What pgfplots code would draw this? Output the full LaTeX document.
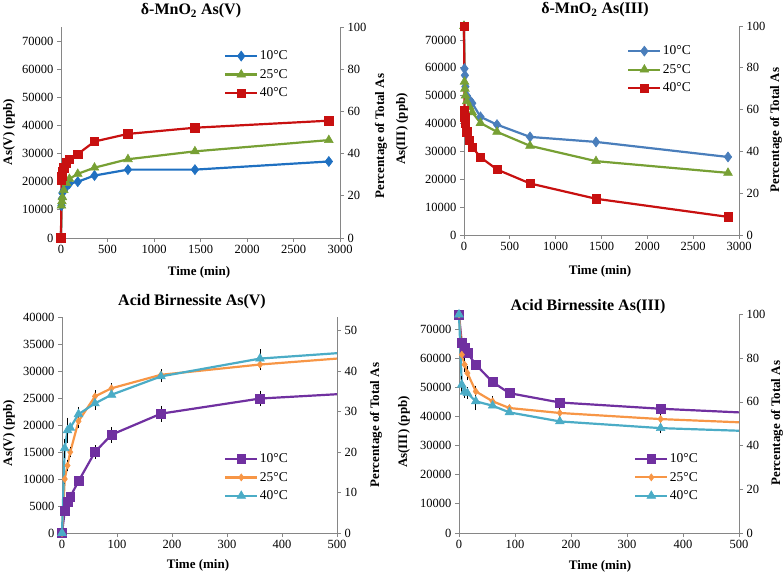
\documentclass[border=0pt]{standalone}
\usepackage{fontspec}
\setmainfont{Liberation Serif}
\usepackage{pgfplots}
\pgfplotsset{compat=1.18}
\definecolor{axgray}{RGB}{134,134,134}
\definecolor{bA}{RGB}{31,112,193}
\definecolor{bB}{RGB}{74,126,187}
\definecolor{gA}{RGB}{119,160,52}
\definecolor{rA}{RGB}{200,16,16}
\definecolor{pu}{RGB}{112,48,160}
\definecolor{orr}{RGB}{247,150,70}
\definecolor{cy}{RGB}{75,172,198}
\pgfplotsset{
  common/.style={scale only axis, anchor=south west, tick align=outside, major tick length=4pt,
    axis line style={axgray, line width=0.8pt}, tick style={axgray, line width=0.8pt},
    tick label style={font=\rmfamily\fontsize{12.5}{14}\selectfont, text=black},
    /pgf/number format/assume math mode=true,
    /pgf/number format/set thousands separator={},
    scaled x ticks=false, scaled y ticks=false, clip=false, ymin=0, xmin=0},
  leftax/.style={common, axis x line*=bottom, axis y line*=left},
  rightax/.style={common, axis y line*=right, axis x line=none, xmax=1},
  ser/.style={line width=2.2pt, mark options={solid, line width=0.6pt}},
  leg/.style={legend style={at={(axis description cs:#1)}, anchor=north west, draw=none, fill=none,
     font=\rmfamily\fontsize{13.5}{15}\selectfont, row sep=5pt, inner sep=0pt, nodes={inner sep=1.5pt}},
     legend cell align=left},
  legend image code/.code={\draw[mark repeat=2,mark phase=2] plot coordinates {(0pt,0pt) (16pt,0pt) (32pt,0pt)};},
  eb/.style={error bars/.cd, y dir=both, y explicit, error bar style={black, line width=0.7pt},
     error mark options={black, line width=0.7pt, mark size=3pt}},
}
\newcommand{\lbl}{\rmfamily\fontsize{13}{15}\selectfont\bfseries}
\newcommand{\ttl}{\rmfamily\fontsize{16}{18}\selectfont\bfseries}
\begin{document}
\begin{tikzpicture}
\useasboundingbox (0,0) rectangle (784pt,576pt);
% ---------- Panel 1 ----------
\begin{axis}[leftax, at={(61pt,338pt)}, width=279pt, height=211pt,
  xmax=3000, ymax=75000, xtick={0,500,...,3000}, ytick={0,10000,...,70000}, leg={0.584,0.895}]
\addplot[ser, color=bA, mark=diamond*, mark size=5pt] coordinates {(0,0)(5,11500)(10,14000)(15,16000)(30,17000)(60,18300)(90,19300)(180,20000)(360,22200)(720,24300)(1440,24300)(2880,27200)};
\addlegendentry{10°C}
\addplot[ser, color=gA, mark=triangle*, mark size=5pt] coordinates {(0,0)(5,11500)(10,13000)(15,14500)(30,17000)(60,19500)(90,21000)(180,22800)(360,25000)(720,28000)(1440,30800)(2880,34800)};
\addlegendentry{25°C}
\addplot[ser, color=rA, mark=square*, mark size=4.2pt] coordinates {(0,0)(5,20500)(10,22000)(15,23500)(30,25000)(60,26800)(90,28000)(180,29800)(360,34300)(720,37000)(1440,39200)(2880,41700)};
\addlegendentry{40°C}
\end{axis}
\begin{axis}[rightax, at={(61pt,338pt)}, width=279pt, height=211pt, ymax=100, ytick={0,20,...,100}]
\end{axis}
% ---------- Panel 2 ----------
\begin{axis}[leftax, at={(464pt,341pt)}, width=275pt, height=209pt,
  xmax=3000, ymax=75000, xtick={0,500,...,3000}, ytick={0,10000,...,70000}, leg={0.593,0.913}]
\addplot[ser, color=bB, mark=diamond*, mark size=5pt] coordinates {(0,75000)(5,59700)(10,57300)(15,53200)(30,50000)(60,48500)(90,47300)(180,42400)(360,39600)(720,35200)(1440,33400)(2880,28000)};
\addlegendentry{10°C}
\addplot[ser, color=gA, mark=triangle*, mark size=5pt] coordinates {(0,75000)(5,55000)(10,52500)(15,50000)(30,48000)(60,46000)(90,44000)(180,40200)(360,37000)(720,32000)(1440,26500)(2880,22300)};
\addlegendentry{25°C}
\addplot[ser, color=rA, mark=square*, mark size=4.2pt] coordinates {(0,75000)(5,44500)(10,42200)(15,40000)(30,37000)(60,34000)(90,31500)(180,27900)(360,23500)(720,18500)(1440,13000)(2880,6500)};
\addlegendentry{40°C}
\end{axis}
\begin{axis}[rightax, at={(464pt,341pt)}, width=275pt, height=209pt, ymax=100, ytick={0,20,...,100}]
\end{axis}
% ---------- Panel 3 ----------
\begin{axis}[leftax, at={(62pt,43pt)}, width=275pt, height=216pt,
  xmax=500, ymax=40000, xtick={0,100,...,500}, ytick={0,5000,...,40000}, leg={0.589,0.375}]
\addplot[ser, color=pu, mark=square*, mark size=4.4pt, eb] coordinates {(0,0)(5,4100)+-(0,300)(10,5800)(15,6700)+-(0,400)(30,9600)(60,15000)+-(0,700)(90,18200)+-(0,900)(180,22100)+-(0,900)(360,24900)+-(0,900)};
\addlegendentry{10°C}
\addplot[ser, color=orr, mark=diamond*, mark size=3.5pt, eb] coordinates {(0,0)(5,10000)+-(0,400)(10,12500)+-(0,500)(15,15000)+-(0,400)(30,20700)+-(0,700)(60,25300)+-(0,600)(90,26800)+-(0,400)(180,29300)+-(0,500)(360,31200)+-(0,500)};
\addlegendentry{25°C}
\addplot[ser, color=cy, mark=triangle*, mark size=5pt, eb] coordinates {(0,0)(5,15700)+-(0,1200)(10,19000)+-(0,1800)(15,19500)(30,22000)+-(0,800)(60,24000)+-(0,600)(90,25600)(180,29000)+-(0,500)(360,32300)+-(0,1200)};
\addlegendentry{40°C}
\addplot[ser, color=pu, forget plot] coordinates {(360,24900)(500,25700)};
\addplot[ser, color=orr, forget plot] coordinates {(360,31200)(500,32300)};
\addplot[ser, color=cy, forget plot] coordinates {(360,32300)(500,33300)};
\end{axis}
\begin{axis}[rightax, at={(62pt,43pt)}, width=275pt, height=216pt, ymax=53.333, ytick={0,10,...,50}]
\end{axis}
% ---------- Panel 4 ----------
\begin{axis}[leftax, at={(459pt,43pt)}, width=280pt, height=218.5pt,
  xmax=500, ymax=75000, xtick={0,100,...,500}, ytick={0,10000,...,70000}, leg={0.625,0.371}]
\addplot[ser, color=pu, mark=square*, mark size=4.4pt, eb] coordinates {(0,75000)(5,65200)+-(0,1500)(10,63500)+-(0,2500)(15,61800)(30,57800)(60,51800)(90,48000)(180,44800)(360,42650)};
\addlegendentry{10°C}
\addplot[ser, color=orr, mark=diamond*, mark size=3.5pt, eb] coordinates {(0,75000)(5,61200)+-(0,1000)(10,57800)+-(0,1500)(15,54900)+-(0,1500)(30,48600)+-(0,1000)(60,45200)+-(0,700)(90,42900)(180,41200)+-(0,600)(360,39100)+-(0,1500)};
\addlegendentry{25°C}
\addplot[ser, color=cy, mark=triangle*, mark size=5pt, eb] coordinates {(0,75000)(5,50900)+-(0,2000)(10,48500)+-(0,1000)(15,48000)+-(0,1000)(30,45200)+-(0,2000)(60,43700)(90,41400)(180,38300)(360,36000)+-(0,800)};
\addlegendentry{40°C}
\addplot[ser, color=pu, forget plot] coordinates {(360,42650)(500,41400)};
\addplot[ser, color=orr, forget plot] coordinates {(360,39100)(500,38000)};
\addplot[ser, color=cy, forget plot] coordinates {(360,36000)(500,35100)};
\end{axis}
\begin{axis}[rightax, at={(459pt,43pt)}, width=280pt, height=218.5pt, ymax=100, ytick={0,20,...,100}]
\end{axis}
% ---------- titles and labels ----------
\node at (191pt,565pt) {\ttl δ-MnO\textsubscript{2} As(V)};
\node at (595pt,566pt) {\ttl δ-MnO\textsubscript{2} As(III)};
\node at (192pt,274pt) {\ttl Acid Birnessite As(V)};
\node at (588pt,269pt) {\ttl Acid Birnessite As(III)};
\node at (199pt,304pt) {\lbl Time (min)};
\node at (600pt,305pt) {\lbl Time (min)};
\node at (198pt,11pt) {\lbl Time (min)};
\node at (600pt,10pt) {\lbl Time (min)};
\node[rotate=90] at (9pt,444pt) {\lbl As(V) (ppb)};
\node[rotate=90] at (402pt,447pt) {\lbl As(III) (ppb)};
\node[rotate=90] at (9pt,143pt) {\lbl As(V) (ppb)};
\node[rotate=90] at (404pt,144pt) {\lbl As(III) (ppb)};
\node[rotate=90] at (381pt,440pt) {\lbl Percentage of Total As};
\node[rotate=90] at (776pt,446pt) {\lbl Percentage of Total As};
\node[rotate=90] at (376pt,151pt) {\lbl Percentage of Total As};
\node[rotate=90] at (777pt,153pt) {\lbl Percentage of Total As};
\end{tikzpicture}
\end{document}
